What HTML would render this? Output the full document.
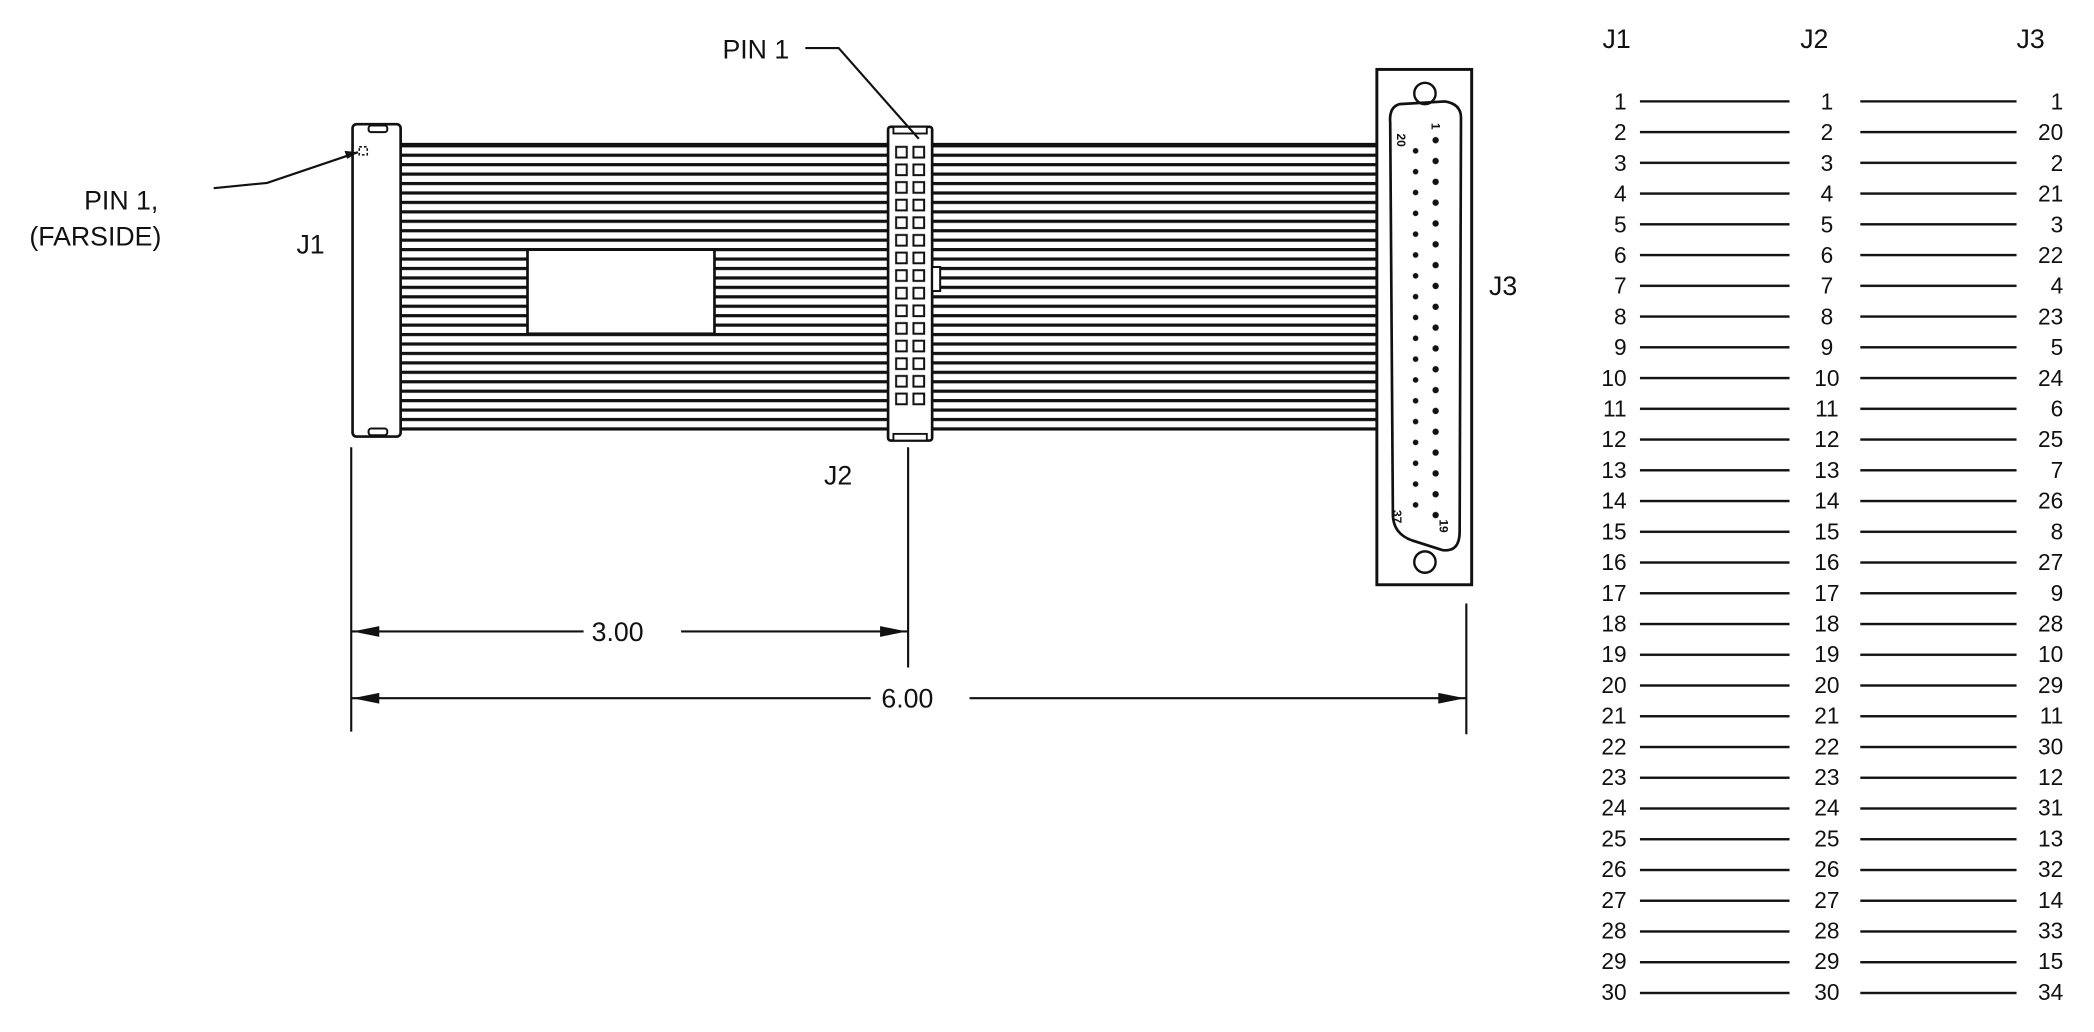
<!DOCTYPE html>
<html><head><meta charset="utf-8"><style>
html,body{margin:0;padding:0;background:#fff;}
svg{display:block;}
text{font-family:"Liberation Sans",sans-serif;fill:#111;}
</style></head><body>
<svg width="2094" height="1032" viewBox="0 0 1568 773" preserveAspectRatio="none" xmlns="http://www.w3.org/2000/svg">
<defs>
<pattern id="rib" x="0" y="108" width="10" height="7.07" patternUnits="userSpaceOnUse">
<rect x="0" y="0" width="10" height="2.4" fill="#111"/></pattern>
<pattern id="pins" x="670" y="108" width="13" height="13.2" patternUnits="userSpaceOnUse">
<rect x="1" y="2" width="8" height="8" fill="#fff" stroke="#111" stroke-width="1.5"/></pattern>
<pattern id="tl" x="0" y="75" width="10" height="23.03" patternUnits="userSpaceOnUse">
<rect x="0" y="0" width="10" height="1.8" fill="#111"/></pattern>
<pattern id="pr" x="1070" y="101" width="10" height="15.6" patternUnits="userSpaceOnUse">
<circle cx="5" cy="4" r="2.4" fill="#111"/></pattern>
<pattern id="pl" x="1055" y="109" width="10" height="15.6" patternUnits="userSpaceOnUse">
<circle cx="5" cy="4" r="2.1" fill="#111"/></pattern>
</defs>
<rect width="1568" height="773" fill="#fff"/>
<rect x="300" y="108" width="732" height="215" fill="url(#rib)"/>
<rect x="300" y="107" width="732" height="3" fill="#111"/>
<rect x="395" y="187" width="140" height="63" fill="#fff" stroke="#111" stroke-width="2"/>
<rect x="264" y="93" width="36" height="234" rx="3" fill="#fff" stroke="#111" stroke-width="2"/>
<rect x="276" y="94" width="14" height="5" rx="2" fill="#fff" stroke="#111" stroke-width="1.5"/>
<rect x="276" y="321" width="14" height="5" rx="2" fill="#fff" stroke="#111" stroke-width="1.5"/>
<rect x="269" y="110" width="6" height="6" fill="none" stroke="#111" stroke-width="1.2" stroke-dasharray="2,1.5"/>
<rect x="665" y="95" width="33" height="235" rx="2" fill="#fff" stroke="#111" stroke-width="2"/>
<rect x="669" y="95" width="25" height="5" fill="#fff" stroke="#111" stroke-width="1.4"/>
<rect x="669" y="325" width="25" height="5" fill="#fff" stroke="#111" stroke-width="1.4"/>
<rect x="670" y="108" width="26" height="198" fill="url(#pins)"/>
<rect x="698" y="200" width="6" height="18" fill="#fff" stroke="#111" stroke-width="1.5"/>
<rect x="1031" y="52" width="71" height="386" fill="#fff" stroke="#111" stroke-width="2.2"/>
<circle cx="1067" cy="70" r="8" fill="none" stroke="#111" stroke-width="1.8"/>
<circle cx="1067" cy="421" r="8" fill="none" stroke="#111" stroke-width="1.8"/>
<path d="M1048 78 Q1040 80 1041 92 L1043 385 Q1043 400 1058 405 L1080 412 Q1093 414 1093 398 L1094 88 Q1094 78 1082 76 Z" fill="none" stroke="#111" stroke-width="2"/>
<rect x="1070" y="101" width="10" height="296" fill="url(#pr)"/>
<rect x="1055" y="109" width="10" height="280" fill="url(#pl)"/>
<text x="1046" y="100" font-size="9" font-weight="bold" transform="rotate(90 1046 100)">20</text>
<text x="1072" y="92" font-size="9" font-weight="bold" transform="rotate(90 1072 92)">1</text>
<text x="1043" y="382" font-size="9" font-weight="bold" transform="rotate(90 1043 382)">37</text>
<text x="1078" y="389" font-size="9" font-weight="bold" transform="rotate(90 1078 389)">19</text>
<text x="63" y="157" font-size="20">PIN 1,</text>
<text x="22" y="184" font-size="20">(FARSIDE)</text>
<path d="M160 141 L200 137 L268 114" fill="none" stroke="#111" stroke-width="1.6"/>
<path d="M268 114 L258 113 L260 119 Z" fill="#111"/>
<text x="222" y="190" font-size="20">J1</text>
<text x="541" y="44" font-size="20">PIN 1</text>
<path d="M603 36 L628 36 L688 104" fill="none" stroke="#111" stroke-width="1.6"/>
<text x="617" y="363" font-size="20">J2</text>
<text x="1115" y="221" font-size="20">J3</text>
<g stroke="#111" stroke-width="1.6">
<line x1="263" y1="335" x2="263" y2="548"/>
<line x1="680" y1="335" x2="680" y2="500"/>
<line x1="1098" y1="452" x2="1098" y2="550"/>
<line x1="263" y1="473" x2="437" y2="473"/>
<line x1="510" y1="473" x2="680" y2="473"/>
<line x1="263" y1="523" x2="652" y2="523"/>
<line x1="726" y1="523" x2="1098" y2="523"/>
</g>
<g fill="#111">
<path d="M264 473 L284 469 L284 477 Z"/><path d="M679 473 L659 469 L659 477 Z"/>
<path d="M264 523 L284 519 L284 527 Z"/><path d="M1097 523 L1077 519 L1077 527 Z"/>
</g>
<text x="443" y="480" font-size="20">3.00</text>
<text x="660" y="530" font-size="20">6.00</text>
<text x="1200" y="36" font-size="20">J1</text>
<text x="1348" y="36" font-size="20">J2</text>
<text x="1510" y="36" font-size="20">J3</text>
<rect x="1228" y="75" width="112" height="670" fill="url(#tl)"/>
<rect x="1393" y="75" width="117" height="670" fill="url(#tl)"/>
<g font-size="17" text-anchor="end">
<text x="1218" y="82">1</text><text x="1218" y="105">2</text><text x="1218" y="128">3</text><text x="1218" y="151">4</text><text x="1218" y="174">5</text><text x="1218" y="197">6</text><text x="1218" y="220">7</text><text x="1218" y="243">8</text><text x="1218" y="266">9</text><text x="1218" y="289">10</text><text x="1218" y="312">11</text><text x="1218" y="335">12</text><text x="1218" y="358">13</text><text x="1218" y="381">14</text><text x="1218" y="404">15</text><text x="1218" y="427">16</text><text x="1218" y="450">17</text><text x="1218" y="473">18</text><text x="1218" y="496">19</text><text x="1218" y="519">20</text><text x="1218" y="542">21</text><text x="1218" y="565">22</text><text x="1218" y="588">23</text><text x="1218" y="611">24</text><text x="1218" y="634">25</text><text x="1218" y="657">26</text><text x="1218" y="680">27</text><text x="1218" y="703">28</text><text x="1218" y="726">29</text><text x="1218" y="749">30</text>
</g>
<g font-size="17" text-anchor="middle">
<text x="1368" y="82">1</text><text x="1368" y="105">2</text><text x="1368" y="128">3</text><text x="1368" y="151">4</text><text x="1368" y="174">5</text><text x="1368" y="197">6</text><text x="1368" y="220">7</text><text x="1368" y="243">8</text><text x="1368" y="266">9</text><text x="1368" y="289">10</text><text x="1368" y="312">11</text><text x="1368" y="335">12</text><text x="1368" y="358">13</text><text x="1368" y="381">14</text><text x="1368" y="404">15</text><text x="1368" y="427">16</text><text x="1368" y="450">17</text><text x="1368" y="473">18</text><text x="1368" y="496">19</text><text x="1368" y="519">20</text><text x="1368" y="542">21</text><text x="1368" y="565">22</text><text x="1368" y="588">23</text><text x="1368" y="611">24</text><text x="1368" y="634">25</text><text x="1368" y="657">26</text><text x="1368" y="680">27</text><text x="1368" y="703">28</text><text x="1368" y="726">29</text><text x="1368" y="749">30</text>
</g>
<g font-size="17" text-anchor="end">
<text x="1545" y="82">1</text><text x="1545" y="105">20</text><text x="1545" y="128">2</text><text x="1545" y="151">21</text><text x="1545" y="174">3</text><text x="1545" y="197">22</text><text x="1545" y="220">4</text><text x="1545" y="243">23</text><text x="1545" y="266">5</text><text x="1545" y="289">24</text><text x="1545" y="312">6</text><text x="1545" y="335">25</text><text x="1545" y="358">7</text><text x="1545" y="381">26</text><text x="1545" y="404">8</text><text x="1545" y="427">27</text><text x="1545" y="450">9</text><text x="1545" y="473">28</text><text x="1545" y="496">10</text><text x="1545" y="519">29</text><text x="1545" y="542">11</text><text x="1545" y="565">30</text><text x="1545" y="588">12</text><text x="1545" y="611">31</text><text x="1545" y="634">13</text><text x="1545" y="657">32</text><text x="1545" y="680">14</text><text x="1545" y="703">33</text><text x="1545" y="726">15</text><text x="1545" y="749">34</text>
</g>
</svg>
</body></html>
